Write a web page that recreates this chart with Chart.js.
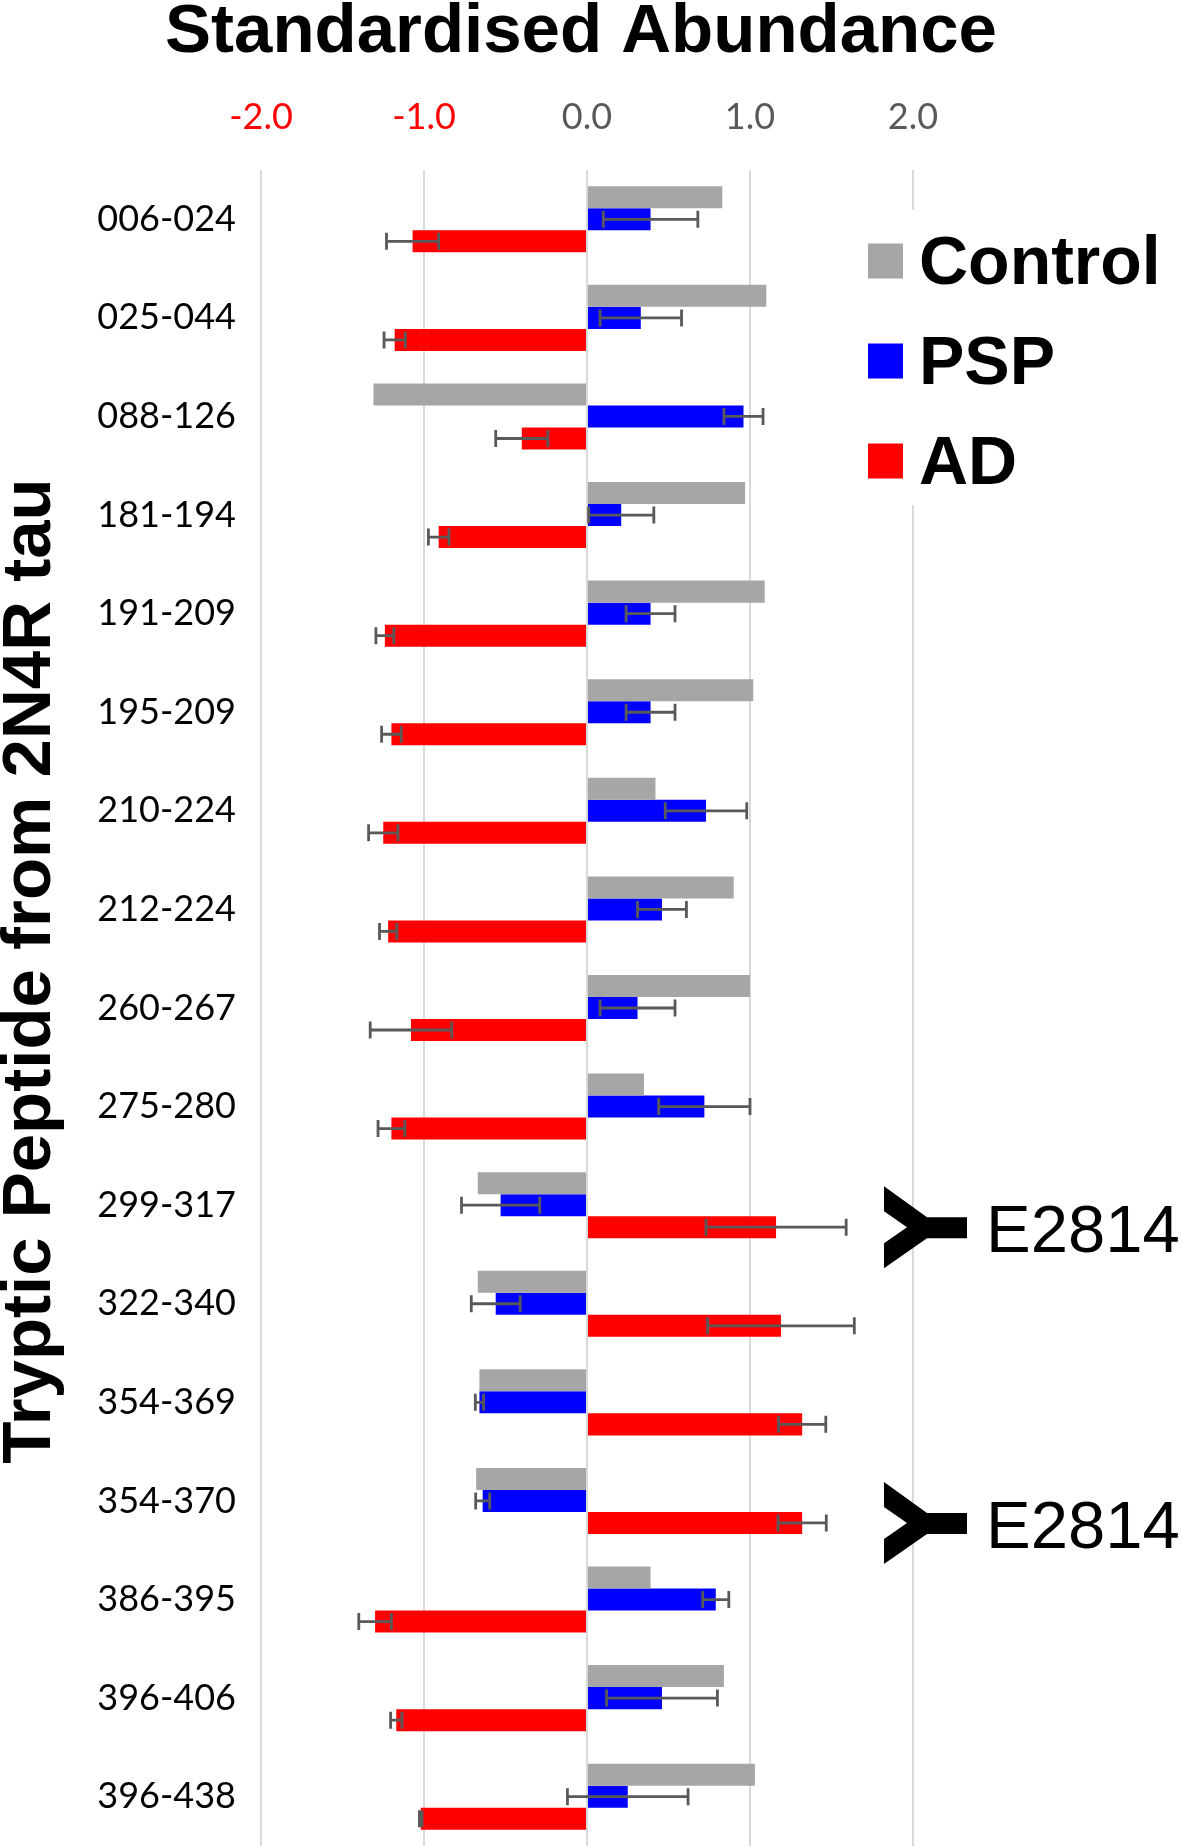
<!DOCTYPE html>
<html>
<head>
<meta charset="utf-8">
<script src="https://cdn.jsdelivr.net/npm/chart.js@4.4.1/dist/chart.umd.min.js"></script>
<style>
    body { margin: 0; background: #ffffff; }
    canvas { display: block; }
</style>
</head>
<body>
<canvas id="main-graph"></canvas>
<script>

const graph_width = 1181;
const graph_height = 1847;

// peptides, top to bottom
const peptides = ['006-024', '025-044', '088-126', '181-194', '191-209', '195-209', '210-224', '212-224',
    '260-267', '275-280', '299-317', '322-340', '354-369', '354-370', '386-395', '396-406', '396-438'];

const control_values = [0.83, 1.10, -1.31, 0.97, 1.09, 1.02, 0.42, 0.90, 1.00, 0.35, -0.67, -0.67, -0.66, -0.68, 0.39, 0.84, 1.03];
const psp_values = [0.39, 0.33, 0.96, 0.21, 0.39, 0.39, 0.73, 0.46, 0.31, 0.72, -0.53, -0.56, -0.66, -0.64, 0.79, 0.46, 0.25];
const psp_errors = [0.29, 0.25, 0.12, 0.20, 0.15, 0.15, 0.25, 0.15, 0.23, 0.28, 0.24, 0.15, 0.025, 0.043, 0.08, 0.34, 0.37];
const ad_values = [-1.07, -1.18, -0.40, -0.91, -1.24, -1.20, -1.25, -1.22, -1.08, -1.20, 1.16, 1.19, 1.32, 1.32, -1.30, -1.17, -1.02];
const ad_errors = [0.16, 0.065, 0.16, 0.063, 0.055, 0.06, 0.09, 0.053, 0.25, 0.082, 0.43, 0.45, 0.145, 0.148, 0.10, 0.035, 0.008];

const x_ticks = [-2, -1, 0, 1, 2];

// peptides covered by the antibody
const antibody_rows = ['299-317', '354-370'];
const antibody_name = 'E2814';

const main_title = 'Standardised Abundance';
const y_title = 'Tryptic Peptide from 2N4R tau';

let main_graph;
let graph_ctx;
let myChart;

const errorBarPlugin = {
    id: 'errorBars',
    afterDatasetsDraw(chart) {
        const ctx = chart.ctx;
        const xScale = chart.scales.x;
        chart.data.datasets.forEach((dataset, d) => {
            if (!dataset.errors) return;
            const meta = chart.getDatasetMeta(d);
            ctx.save();
            ctx.strokeStyle = '#595959';
            ctx.lineWidth = 2.8;
            meta.data.forEach((bar, i) => {
                const v = dataset.data[i];
                const e = dataset.errors[i];
                const x1 = xScale.getPixelForValue(v - e);
                const x2 = xScale.getPixelForValue(v + e);
                ctx.beginPath();
                ctx.moveTo(x1, bar.y);
                ctx.lineTo(x2, bar.y);
                ctx.moveTo(x1, bar.y - 8.5);
                ctx.lineTo(x1, bar.y + 8.5);
                ctx.moveTo(x2, bar.y - 8.5);
                ctx.lineTo(x2, bar.y + 8.5);
                ctx.stroke();
            });
            ctx.restore();
        });
    }
};

function drawAntibody(ctx, x0, cy)
{
    // sideways "Y", arms open to the left
    const pts = [[0, -41], [43, -10], [83, -10], [83, 11], [43, 11], [0, 41], [0, 16], [23, 0], [0, -16]];
    ctx.beginPath();
    ctx.moveTo(x0 + pts[0][0], cy + pts[0][1]);
    for (let i = 1; i < pts.length; i++)
        ctx.lineTo(x0 + pts[i][0], cy + pts[i][1]);
    ctx.closePath();
    ctx.fill();
}

const decorPlugin = {
    id: 'decor',
    afterDraw(chart) {
        const ctx = chart.ctx;
        const area = chart.chartArea;
        ctx.save();
        ctx.fillStyle = '#000000';

        // title
        ctx.font = 'bold 69px "Liberation Sans", Arial, sans-serif';
        ctx.textAlign = 'center';
        ctx.textBaseline = 'alphabetic';
        ctx.fillText(main_title, 581, 52);

        // y title
        ctx.save();
        ctx.translate(50, 971);
        ctx.rotate(-Math.PI / 2);
        ctx.font = 'bold 69px "Liberation Sans", Arial, sans-serif';
        ctx.fillText(y_title, 0, 0);
        ctx.restore();

        // legend
        ctx.fillStyle = '#ffffff';
        ctx.fillRect(area.right - 50, 210, graph_width - area.right + 50, 295);
        chart.data.datasets.forEach((dataset, d) => {
            const cy = 261 + d * 100;
            ctx.fillStyle = dataset.backgroundColor;
            ctx.fillRect(868, cy - 17.5, 35, 35);
            ctx.fillStyle = '#000000';
            ctx.font = 'bold 68px "Liberation Sans", Arial, sans-serif';
            ctx.textAlign = 'left';
            ctx.fillText(dataset.label, 919, cy + 23);
        });

        // antibody marks next to the AD bars
        const adMeta = chart.getDatasetMeta(2);
        ctx.font = '67px "Liberation Sans", Arial, sans-serif';
        antibody_rows.forEach(name => {
            const idx = peptides.indexOf(name);
            const cy = adMeta.data[idx].y;
            ctx.fillStyle = '#000000';
            drawAntibody(ctx, 884, cy);
            ctx.fillText(antibody_name, 986, cy + 25);
        });
        ctx.restore();
    }
};

const data = {
    labels: peptides,
    datasets: [
        {
            label: 'Control',
            data: control_values,
            backgroundColor: '#a6a6a6',
        },
        {
            label: 'PSP',
            data: psp_values,
            errors: psp_errors,
            backgroundColor: '#0000ff',
        },
        {
            label: 'AD',
            data: ad_values,
            errors: ad_errors,
            backgroundColor: '#ff0000',
        }
    ]
};

const config = {
    type: 'bar',
    data: data,
    options: {
        responsive: false,
        animation: false,
        indexAxis: 'y',
        layout: {
            padding: { left: 81, right: 268, top: 50, bottom: 1 }
        },
        datasets: {
            bar: {
                categoryPercentage: 0.67,
                barPercentage: 1.0,
                borderWidth: 0,
            }
        },
        plugins: {
            legend: { display: false },
            title: { display: false },
            tooltip: { enabled: false }
        },
        scales: {
            x: {
                position: 'top',
                min: -2,
                max: 2,
                afterBuildTicks: (scale) => { scale.ticks = x_ticks.map(v => ({ value: v })); },
                afterFit: (scale) => { scale.height = 120; },
                grid: { color: '#d9d9d9', lineWidth: 2, drawTicks: false },
                border: { display: false },
                ticks: {
                    padding: 31,
                    font: { family: 'Lato', size: 36 },
                    color: (c) => c.tick.value < 0 ? '#ff0000' : '#595959',
                    callback: (v) => Number(v).toFixed(1)
                }
            },
            y: {
                afterFit: (scale) => {
                    scale.width = 180;
                    scale.paddingTop = 0;
                    scale.paddingBottom = 0;
                },
                grid: { display: false, drawTicks: false },
                border: { display: false },
                ticks: {
                    padding: 25,
                    font: { family: 'Lato', size: 36 },
                    color: '#000000'
                }
            }
        }
    },
    plugins: [errorBarPlugin, decorPlugin]
};

function initGraph()
{
    main_graph = document.getElementById('main-graph');
    graph_ctx = main_graph.getContext('2d');
    main_graph.width = graph_width;
    main_graph.height = graph_height;

    myChart = new Chart(graph_ctx, config);
}

initGraph();
</script>
</body>
</html>
